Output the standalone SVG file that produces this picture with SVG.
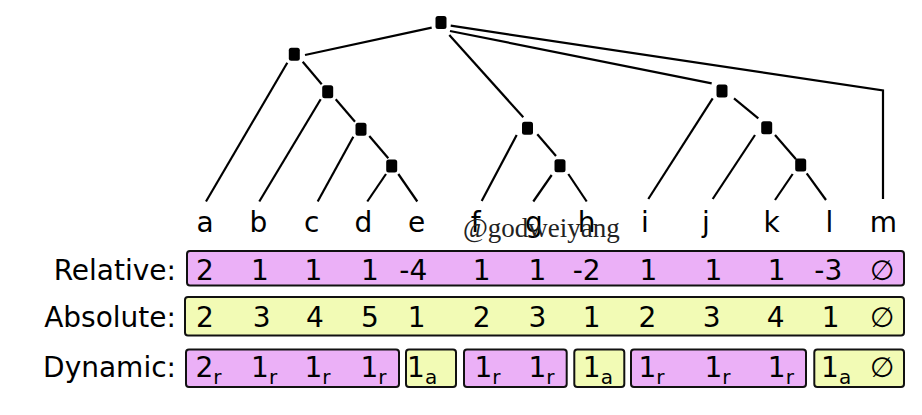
<svg xmlns="http://www.w3.org/2000/svg" width="922" height="415" viewBox="0 0 922 415">
<style>
.e{stroke:#000;stroke-width:2.2;fill:none;stroke-linecap:butt}
.n{fill:#000}
.t{font-family:"DejaVu Sans",sans-serif;font-size:28px;fill:#000}
.m{text-anchor:middle}
.r{text-anchor:end}
.s{font-size:20px}
.p{fill:#ebb0f7;stroke:#111;stroke-width:2}
.y{fill:#f2fbb5;stroke:#111;stroke-width:2}
.w{font-family:"Liberation Serif",serif;font-size:27px;fill:#222}
</style>
<rect width="922" height="415" fill="#fff"/>
<g id="connectors">
<line class="e" x1="431.7" y1="27.7" x2="305" y2="55"/>
<line class="e" x1="287.3" y1="62.7" x2="206" y2="201.5"/>
<line class="e" x1="302.7" y1="61.7" x2="321.7" y2="84.3"/>
<line class="e" x1="320.7" y1="99.3" x2="259.3" y2="201.5"/>
<line class="e" x1="335.7" y1="99.3" x2="355" y2="121.7"/>
<line class="e" x1="353.3" y1="136.7" x2="317.7" y2="201.5"/>
<line class="e" x1="369.3" y1="136" x2="388.3" y2="158.3"/>
<line class="e" x1="386" y1="174" x2="367.3" y2="201.5"/>
<line class="e" x1="398.3" y1="174" x2="417.3" y2="201.5"/>
<line class="e" x1="449.3" y1="35" x2="523.3" y2="117.3"/>
<line class="e" x1="516.7" y1="135" x2="481.7" y2="201"/>
<line class="e" x1="537.3" y1="134.3" x2="556" y2="156"/>
<line class="e" x1="551.7" y1="175" x2="533.3" y2="201.5"/>
<line class="e" x1="568.3" y1="174" x2="586.7" y2="201.5"/>
<polyline class="e" points="450.7,25.7 883,90.5 883,199"/>
<line class="e" x1="450" y1="31" x2="711.7" y2="83.3"/>
<line class="e" x1="712.7" y1="98.3" x2="648.3" y2="199"/>
<line class="e" x1="734" y1="98.3" x2="758.3" y2="118.3"/>
<line class="e" x1="755" y1="135" x2="712.7" y2="199"/>
<line class="e" x1="775" y1="135" x2="796" y2="159.3"/>
<line class="e" x1="792.7" y1="174" x2="775" y2="200"/>
<line class="e" x1="806.7" y1="173.3" x2="826" y2="200"/>
</g>
<g id="node-root"><rect class="n" x="435.5" y="16" width="11" height="13" rx="2.5"/></g>
<g id="node-1"><rect class="n" x="288.8" y="47.8" width="11" height="13" rx="2.5"/></g>
<g id="node-2"><rect class="n" x="322.2" y="85.2" width="11" height="13" rx="2.5"/></g>
<g id="node-3"><rect class="n" x="355.5" y="122.8" width="11" height="13" rx="2.5"/></g>
<g id="node-4"><rect class="n" x="386.2" y="159.5" width="11" height="13" rx="2.5"/></g>
<g id="node-5"><rect class="n" x="522" y="121.8" width="11" height="13" rx="2.5"/></g>
<g id="node-6"><rect class="n" x="554.5" y="159.2" width="11" height="13" rx="2.5"/></g>
<g id="node-7"><rect class="n" x="716.5" y="84.5" width="11" height="13" rx="2.5"/></g>
<g id="node-8"><rect class="n" x="761.2" y="121.2" width="11" height="13" rx="2.5"/></g>
<g id="node-9"><rect class="n" x="795.2" y="158.5" width="11" height="13" rx="2.5"/></g>
<g id="leaves" class="t m">
<text x="205" y="232">a</text>
<text x="258.3" y="232">b</text>
<text x="311.7" y="232">c</text>
<text x="363.3" y="232">d</text>
<text x="416.7" y="232">e</text>
<text x="475.7" y="232">f</text>
<text x="533.8" y="232">g</text>
<text x="586.7" y="232">h</text>
<text x="645" y="232">i</text>
<text x="706" y="232">j</text>
<text x="771.7" y="232">k</text>
<text x="829.3" y="232">l</text>
<text x="883.3" y="232">m</text>
</g>
<text class="w" x="463" y="237">@godweiyang</text>
<g id="row-relative">
<text class="t r" x="176" y="279.5">Relative:</text>
<rect class="p" x="187" y="251" width="717" height="34.5" rx="3"/>
<g class="t m">
<text x="205" y="279.5">2</text>
<text x="260" y="279.5">1</text>
<text x="313.3" y="279.5">1</text>
<text x="370" y="279.5">1</text>
<text x="413.3" y="279.5">-4</text>
<text x="481.7" y="279.5">1</text>
<text x="537.3" y="279.5">1</text>
<text x="586.7" y="279.5">-2</text>
<text x="648.3" y="279.5">1</text>
<text x="713.3" y="279.5">1</text>
<text x="776.7" y="279.5">1</text>
<text x="828.3" y="279.5">-3</text>
<text x="882.3" y="279.5">∅</text>
</g>
</g>
<g id="row-absolute">
<text class="t r" x="176" y="327">Absolute:</text>
<rect class="y" x="185" y="297" width="719" height="38.5" rx="3"/>
<g class="t m">
<text x="205" y="327">2</text>
<text x="261.7" y="327">3</text>
<text x="315" y="327">4</text>
<text x="370" y="327">5</text>
<text x="416.7" y="327">1</text>
<text x="481.7" y="327">2</text>
<text x="537.3" y="327">3</text>
<text x="591.7" y="327">1</text>
<text x="647.3" y="327">2</text>
<text x="711.7" y="327">3</text>
<text x="775.7" y="327">4</text>
<text x="830.7" y="327">1</text>
<text x="882.3" y="327">∅</text>
</g>
</g>
<g id="row-dynamic">
<text class="t r" x="176" y="377">Dynamic:</text>
<rect class="p" x="186" y="349.5" width="213" height="37.5" rx="3"/>
<rect class="y" x="406" y="349.5" width="50" height="37.5" rx="3"/>
<rect class="p" x="464" y="349.5" width="102.7" height="37.5" rx="3"/>
<rect class="y" x="574.3" y="349.5" width="50" height="37.5" rx="3"/>
<rect class="p" x="631" y="349.5" width="175" height="37.5" rx="3"/>
<rect class="y" x="814.3" y="349.5" width="89.7" height="37.5" rx="3"/>
<g class="t">
<text x="195.5" y="377">2<tspan class="s" dy="7">r</tspan></text>
<text x="251.1" y="377">1<tspan class="s" dy="7">r</tspan></text>
<text x="304.4" y="377">1<tspan class="s" dy="7">r</tspan></text>
<text x="360.4" y="377">1<tspan class="s" dy="7">r</tspan></text>
<text x="407.1" y="377">1<tspan class="s" dy="7">a</tspan></text>
<text x="474.4" y="377">1<tspan class="s" dy="7">r</tspan></text>
<text x="528.4" y="377">1<tspan class="s" dy="7">r</tspan></text>
<text x="582.8" y="377">1<tspan class="s" dy="7">a</tspan></text>
<text x="638.4" y="377">1<tspan class="s" dy="7">r</tspan></text>
<text x="704.4" y="377">1<tspan class="s" dy="7">r</tspan></text>
<text x="767.8" y="377">1<tspan class="s" dy="7">r</tspan></text>
<text x="821.1" y="377">1<tspan class="s" dy="7">a</tspan></text>
<text x="882.3" y="377" text-anchor="middle">∅</text>
</g>
</g>
</svg>
